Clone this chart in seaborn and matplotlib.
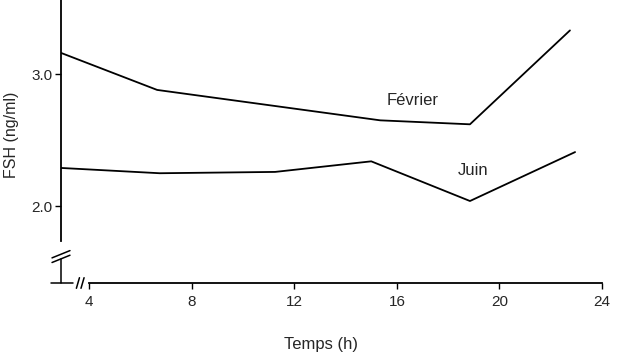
import pandas as pd
import matplotlib
matplotlib.use("Agg")
import matplotlib.pyplot as plt
import seaborn as sns

# --------------------------
# Data
# --------------------------
heures_fev = [2.9, 6.65, 15.35, 18.85, 22.75]
fsh_fev = [3.16, 2.88, 2.65, 2.62, 3.33]

heures_juin = [2.9, 6.75, 11.25, 15.0, 18.85, 22.95]
fsh_juin = [2.29, 2.25, 2.26, 2.34, 2.04, 2.41]

x_ticks = [4, 8, 12, 16, 20, 24]
y_ticks = [2.0, 3.0]

df = pd.concat([
    pd.DataFrame({"Temps": heures_fev, "FSH": fsh_fev, "mois": "Février"}),
    pd.DataFrame({"Temps": heures_juin, "FSH": fsh_juin, "mois": "Juin"}),
])

# --------------------------
# Plot
# --------------------------
sns.set_style("ticks")
plt.rcParams["font.family"] = ["Liberation Sans", "DejaVu Sans"]

fig = plt.figure(figsize=(6.2, 3.54), dpi=100)
ax = fig.add_axes([61 / 620, 1 - 283 / 354, 541 / 620, 283 / 354])

sns.lineplot(data=df, x="Temps", y="FSH", hue="mois", palette=["black", "black"],
             linewidth=1.3, legend=False, ax=ax, sort=False)

ax.set_xlim(2.9, 24)
ax.set_ylim(1.42, 3.56)
ax.set_xticks(x_ticks)
ax.set_xticklabels([str(t) for t in x_ticks], fontsize=11)
ax.set_yticks(y_ticks)
ax.set_yticklabels([f"{t:.1f}" for t in y_ticks], fontsize=11)
ax.tick_params(axis="both", direction="out", length=4, width=1, color="black")
ax.tick_params(axis="x", pad=5)
ax.tick_params(axis="y", pad=2)

for s in ["top", "right"]:
    ax.spines[s].set_visible(False)
ax.spines["left"].set_bounds(1.74, 3.56)
ax.spines["bottom"].set_bounds(4, 24)
for s in ["left", "bottom"]:
    ax.spines[s].set_linewidth(1.3)
    ax.spines[s].set_color("black")

# axis break marks
kw = dict(color="black", linewidth=1.1, clip_on=False)
ax.plot([2.5, 3.35], [1.42, 1.42], **kw)
ax.plot([2.9, 2.9], [1.42, 1.60], **kw)
ax.plot([2.55, 3.25], [1.61, 1.665], **kw)
ax.plot([2.55, 3.25], [1.575, 1.63], **kw)
ax.plot([3.5, 3.62], [1.38, 1.46], **kw)
ax.plot([3.68, 3.8], [1.38, 1.46], **kw)

ax.text(16.6, 2.80, "Février", fontsize=12, ha="center", va="center")
ax.text(18.97, 2.27, "Juin", fontsize=12, ha="center", va="center")

ax.set_xlabel("Temps (h)", fontsize=12)
ax.set_ylabel("FSH (ng/ml)", fontsize=11.5)
ax.xaxis.set_label_coords(0.481, -0.19)
ax.yaxis.set_label_coords(-0.078, 0.523)

fig.savefig("out.png", dpi=100)
